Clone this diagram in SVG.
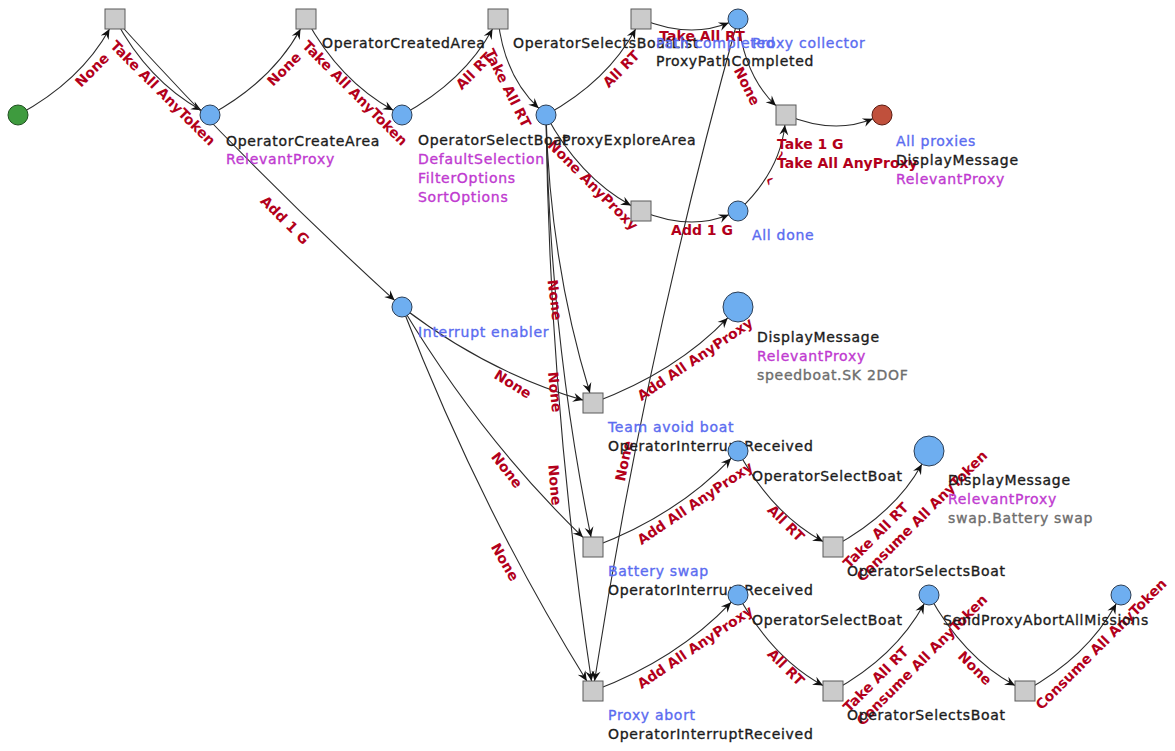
<svg xmlns="http://www.w3.org/2000/svg" width="1175" height="751" viewBox="0 0 1175 751">
<defs>
<marker id="arr" viewBox="-11 -6 12 12" refX="0" refY="0" markerWidth="12" markerHeight="12" markerUnits="userSpaceOnUse" orient="auto">
<path d="M0,0 L-10,-4.5 L-6.5,0 L-10,4.5 Z" fill="#111"/>
</marker>
<style>
.e{fill:none;stroke:#2b2b2b;stroke-width:1.1;marker-end:url(#arr)}
.pl{fill:#6eaef0;stroke:#2c3e55;stroke-width:1}
.tr{fill:#cbcbcb;stroke:#5a5a5a;stroke-width:1}
.el{font-family:"DejaVu Sans","Liberation Sans",sans-serif;font-weight:bold;font-size:14px;fill:#b3001b;text-anchor:middle}
.el2{font-family:"DejaVu Sans","Liberation Sans",sans-serif;font-weight:bold;font-size:14px;fill:#b3001b}
.nl{font-family:"DejaVu Sans","Liberation Sans",sans-serif;font-size:14px;letter-spacing:0.7px;stroke-width:0.35px}
.k{fill:#1c1c1c;stroke:#1c1c1c}.b{fill:#5b6cf0;stroke:#5b6cf0}.m{fill:#c03ad0;stroke:#c03ad0}.g{fill:#6e6e6e;stroke:#6e6e6e}
</style>
</defs>
<rect width="1175" height="751" fill="#fff"/>
<g id="connectors">
<path class="e" d="M18,115 Q80.6,81.2 109.5,29"/>
<path class="e" d="M115,19 Q148.3,81.1 201.2,110.2"/>
<path class="e" d="M115,19 Q251.4,170.1 394.6,300.3"/>
<path class="e" d="M210,115 Q272.1,81.1 300.5,29"/>
<path class="e" d="M306,19 Q339.9,81.1 393.2,110.2"/>
<path class="e" d="M402,115 Q464.1,81.1 492.5,29"/>
<path class="e" d="M498,19 Q504.1,75.9 538.7,108.2"/>
<path class="e" d="M546,115 Q607.7,81.1 635.6,29"/>
<path class="e" d="M641,19 Q689.5,39 728.8,22.8"/>
<path class="e" d="M738,19 Q744.1,75.9 776,105.7"/>
<path class="e" d="M786,115 Q834,135 872.8,118.8"/>
<path class="e" d="M546,115 Q579.3,177.1 631,205.5"/>
<path class="e" d="M641,211 Q689.5,231 728.8,214.8"/>
<path class="e" d="M738,211 Q779.9,171.9 784.9,125"/>
<path class="e" d="M546,115 Q549.8,262.2 589.9,393"/>
<path class="e" d="M546,115 Q549.6,333.2 591,537"/>
<path class="e" d="M546,115 Q549.6,404.6 591.5,681"/>
<path class="e" d="M738,19 Q645.9,350.8 594.5,681"/>
<path class="e" d="M402,307 Q488.5,372.9 583,400.1"/>
<path class="e" d="M402,307 Q481.8,439.5 583,537.3"/>
<path class="e" d="M402,307 Q479.6,507.9 586.8,681"/>
<path class="e" d="M593,403 Q676.5,371.7 727.7,317.9"/>
<path class="e" d="M593,547 Q676.5,515.7 731.1,458.3"/>
<path class="e" d="M593,691 Q676.5,659.7 731.1,602.3"/>
<path class="e" d="M738,451 Q771.3,513.1 823,541.5"/>
<path class="e" d="M738,595 Q771.3,657.1 823,685.5"/>
<path class="e" d="M833,547 Q895.1,513.1 921.8,464.2"/>
<path class="e" d="M833,691 Q895.1,657.1 924.2,603.8"/>
<path class="e" d="M929,595 Q962.9,657.1 1015,685.5"/>
<path class="e" d="M1025,691 Q1087.1,657.1 1116.2,603.8"/>
<g id="edge-labels">
<text class="el" transform="translate(92,70) rotate(-45)" dy="5">None</text>
<text class="el" transform="translate(163,93) rotate(45)" dy="5">Take All AnyToken</text>
<text class="el" transform="translate(285,220) rotate(45)" dy="5">Add 1 G</text>
<text class="el" transform="translate(284,69) rotate(-45)" dy="5">None</text>
<text class="el" transform="translate(355,93) rotate(45)" dy="5">Take All AnyToken</text>
<text class="el" transform="translate(474,71) rotate(-45)" dy="5">All RT</text>
<text class="el" transform="translate(508,88) rotate(63.4)" dy="5">Take All RT</text>
<text class="el" transform="translate(621,69) rotate(-45)" dy="5">All RT</text>
<text class="el" transform="translate(702,36)" dy="5">Take All RT</text>
<text class="el" transform="translate(747,86) rotate(63.4)" dy="5">None</text>
<text class="el" transform="translate(593,185) rotate(45)" dy="5">None AnyProxy</text>
<text class="el" transform="translate(702,230)" dy="5">Add 1 G</text>
<text class="el" font-size="11" transform="translate(773,183) rotate(-60)" dy="4">^</text>
<text class="el" font-size="11" transform="translate(781,156) rotate(-70)" dy="4">~</text>
<text class="el2" x="777" y="149">Take 1 G</text>
<text class="el2" x="777" y="168">Take All AnyProxy</text>
<text class="el" transform="translate(555,300) rotate(83)" dy="5">None</text>
<text class="el" transform="translate(555,392) rotate(84)" dy="5">None</text>
<text class="el" transform="translate(555,485) rotate(85)" dy="5">None</text>
<text class="el" transform="translate(624,461) rotate(-78)" dy="5">None</text>
<text class="el" transform="translate(513,384) rotate(32)" dy="5">None</text>
<text class="el" transform="translate(507,470) rotate(52)" dy="5">None</text>
<text class="el" transform="translate(505,562) rotate(60)" dy="5">None</text>
<text class="el" transform="translate(695,359) rotate(-34)" dy="5">Add All AnyProxy</text>
<text class="el" transform="translate(695,503) rotate(-34)" dy="5">Add All AnyProxy</text>
<text class="el" transform="translate(695,647) rotate(-34)" dy="5">Add All AnyProxy</text>
<text class="el" transform="translate(786,523) rotate(45)" dy="5">All RT</text>
<text class="el" transform="translate(786,667) rotate(45)" dy="5">All RT</text>
<g transform="translate(849,569) rotate(-45)"><text class="el2" x="0" y="0">Take All RT</text><text class="el2" x="0" y="19">Consume All AnyToken</text></g>
<g transform="translate(849,713) rotate(-45)"><text class="el2" x="0" y="0">Take All RT</text><text class="el2" x="0" y="19">Consume All AnyToken</text></g>
<text class="el" transform="translate(975,668) rotate(45)" dy="5">None</text>
<text class="el" transform="translate(1101,644) rotate(-45)" dy="5">Consume All AnyToken</text>
</g>
</g>
<g id="start"><circle cx="18" cy="115" r="10" fill="#3e9b3e" stroke="#1f4f1f" stroke-width="1"/></g>
<g id="t1"><rect class="tr" x="105" y="9" width="20" height="20"/></g>
<g id="p1"><circle class="pl" cx="210" cy="115" r="10"/><text class="nl k" x="226" y="146">OperatorCreateArea</text><text class="nl m" x="226" y="164">RelevantProxy</text></g>
<g id="t2"><rect class="tr" x="296" y="9" width="20" height="20"/><text class="nl k" x="322" y="48">OperatorCreatedArea</text></g>
<g id="p2"><circle class="pl" cx="402" cy="115" r="10"/><text class="nl k" x="418" y="145">OperatorSelectBoat</text><text class="nl m" x="418" y="164">DefaultSelection</text><text class="nl m" x="418" y="183">FilterOptions</text><text class="nl m" x="418" y="202">SortOptions</text></g>
<g id="t3"><rect class="tr" x="488" y="9" width="20" height="20"/><text class="nl k" x="513" y="48">OperatorSelectsBoatList</text></g>
<g id="p3"><circle class="pl" cx="546" cy="115" r="10"/><text class="nl k" x="562" y="145">ProxyExploreArea</text></g>
<g id="t4"><rect class="tr" x="631" y="9" width="20" height="20"/><text class="nl b" x="656" y="48">Path completed</text><text class="nl k" x="656" y="66">ProxyPathCompleted</text></g>
<g id="p4"><circle class="pl" cx="738" cy="19" r="10"/><text class="nl b" x="752" y="48">Proxy collector</text></g>
<g id="t5"><rect class="tr" x="776" y="105" width="20" height="20"/></g>
<g id="sink"><circle cx="882" cy="115" r="10" fill="#c0503c" stroke="#5a1a10" stroke-width="1"/><text class="nl b" x="896" y="146">All proxies</text><text class="nl k" x="896" y="165">DisplayMessage</text><text class="nl m" x="896" y="184">RelevantProxy</text></g>
<g id="t6"><rect class="tr" x="631" y="201" width="20" height="20"/></g>
<g id="p5"><circle class="pl" cx="738" cy="211" r="10"/><text class="nl b" x="752" y="240">All done</text></g>
<g id="p6"><circle class="pl" cx="402" cy="307" r="10"/><text class="nl b" x="418" y="337">Interrupt enabler</text></g>
<g id="b1"><circle class="pl" cx="738" cy="307" r="15"/><text class="nl k" x="757" y="342">DisplayMessage</text><text class="nl m" x="757" y="361">RelevantProxy</text><text class="nl g" x="757" y="380">speedboat.SK 2DOF</text></g>
<g id="t7"><rect class="tr" x="583" y="393" width="20" height="20"/><text class="nl b" x="608" y="432">Team avoid boat</text><text class="nl k" x="608" y="451">OperatorInterruptReceived</text></g>
<g id="p7"><circle class="pl" cx="738" cy="451" r="10"/><text class="nl k" x="752" y="481">OperatorSelectBoat</text></g>
<g id="b2"><circle class="pl" cx="929" cy="451" r="15"/><text class="nl k" x="948" y="485">DisplayMessage</text><text class="nl m" x="948" y="504">RelevantProxy</text><text class="nl g" x="948" y="523">swap.Battery swap</text></g>
<g id="t8"><rect class="tr" x="583" y="537" width="20" height="20"/><text class="nl b" x="608" y="576">Battery swap</text><text class="nl k" x="608" y="595">OperatorInterruptReceived</text></g>
<g id="t9"><rect class="tr" x="823" y="537" width="20" height="20"/><text class="nl k" x="847" y="576">OperatorSelectsBoat</text></g>
<g id="p8"><circle class="pl" cx="738" cy="595" r="10"/><text class="nl k" x="752" y="625">OperatorSelectBoat</text></g>
<g id="t10"><rect class="tr" x="583" y="681" width="20" height="20"/><text class="nl b" x="608" y="720">Proxy abort</text><text class="nl k" x="608" y="739">OperatorInterruptReceived</text></g>
<g id="t11"><rect class="tr" x="823" y="681" width="20" height="20"/><text class="nl k" x="847" y="720">OperatorSelectsBoat</text></g>
<g id="p9"><circle class="pl" cx="929" cy="595" r="10"/><text class="nl k" x="943" y="625">SendProxyAbortAllMissions</text></g>
<g id="t12"><rect class="tr" x="1015" y="681" width="20" height="20"/></g>
<g id="p10"><circle class="pl" cx="1121" cy="595" r="10"/></g>
</svg>
